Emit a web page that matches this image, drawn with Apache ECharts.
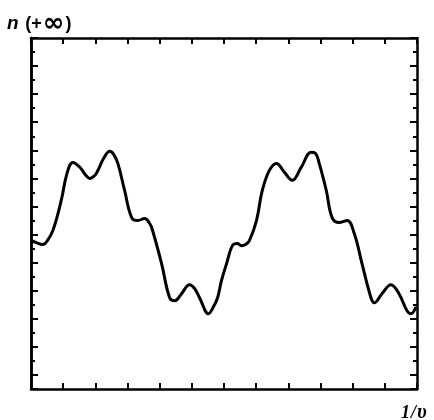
<!DOCTYPE html>
<html>
<head>
<meta charset="utf-8">
<script src="https://cdn.jsdelivr.net/npm/echarts@6/dist/echarts.min.js"></script>
<style>
html,body{margin:0;padding:0;background:#fff;}
#chart{width:434px;height:420px;}
</style>
</head>
<body>
<div id="chart"></div>
<script>
// 1/nu positions (axis units) and n values (axis units)
var xValues = [0.02,0.16,0.37,0.53,0.68,0.84,0.96,1.12,1.30,1.52,1.71,1.83,1.98,2.08,2.26,2.45,2.57,2.70,2.91,3.13,3.32,3.53,3.69,3.78,4.06,4.31,4.47,4.68,4.93,5.09,5.24,5.52,5.64,5.80,5.92,6.08,6.26,6.42,6.54,6.67,6.79,7.01,7.19,7.41,7.63,7.88,8.12,8.40,8.71,8.84,8.96,9.18,9.36,9.58,9.83,10.05,10.29,10.57,10.67,10.91,11.19,11.44,11.69,11.81,11.97];
var nValues = [10.57,10.43,10.29,10.64,11.29,12.5,13.64,15.36,16.14,15.79,15.21,15.0,15.21,15.57,16.43,16.93,16.71,16.07,14.14,12.21,12.0,12.14,11.79,11.29,8.93,6.5,6.29,6.79,7.43,7.14,6.5,5.36,5.71,6.5,7.71,8.93,10.21,10.36,10.21,10.29,10.57,12.0,14.14,15.57,16.07,15.43,14.86,15.79,16.86,16.79,16.07,14.14,12.21,11.86,12.0,11.07,8.93,6.5,6.14,6.79,7.43,6.79,5.57,5.36,5.86];
var yAxisTitle = ['n', '(+', '∞', ')'];
var xAxisTitle = ['1', '/', 'υ'];

var data = xValues.map(function(x, i){ return [x, nValues[i]]; });

var chart = echarts.init(document.getElementById('chart'), null, {renderer:'canvas'});
var lineStyle = {color:'#000', width:2.5};
function xAx(pos){
  return {type:'value', position:pos, min:0, max:12, interval:1,
    axisLine:{show:true, onZero:false, lineStyle:lineStyle},
    axisTick:{show:true, inside:true, length:6, lineStyle:{color:'#000', width:2}},
    axisLabel:{show:false}, splitLine:{show:false}};
}
function yTicks(pos){
  return {type:'value', position:pos, inverse:true, min:0, max:25, interval:2,
    axisLine:{show:true, onZero:false, lineStyle:lineStyle},
    axisTick:{show:true, inside:true, length:7, lineStyle:{color:'#000', width:2}},
    minorTick:{show:true, splitNumber:2, length:4, lineStyle:{color:'#000', width:2}},
    axisLabel:{show:false}, splitLine:{show:false}, minorSplitLine:{show:false}};
}
chart.setOption({
  animation:false,
  backgroundColor:'#fff',
  grid:{left:31, top:38, width:386, height:351, containLabel:false},
  xAxis:[xAx('bottom'), xAx('top')],
  yAxis:[
    {type:'value', position:'left', min:0, max:25, show:true,
      axisLine:{show:true, onZero:false, lineStyle:lineStyle},
      axisTick:{show:false}, axisLabel:{show:false}, splitLine:{show:false}},
    yTicks('left'), yTicks('right')
  ],
  graphic:[
    {type:'text', left:7, top:11, style:{
      text:'{n|' + yAxisTitle[0] + '}  {p|' + yAxisTitle[1] + '}{i|' + yAxisTitle[2] + '}{p|' + yAxisTitle[3] + '}',
      rich:{
        n:{font:'italic bold 19px "Liberation Sans"', fill:'#000'},
        p:{font:'bold 18px "Liberation Sans"', fill:'#000'},
        i:{font:'bold 26px "DejaVu Sans"', fill:'#000', padding:[0,1,0,1]}
      }}},
    {type:'text', left:401, top:403, style:{
      text:'{a|' + xAxisTitle[0] + '}{b|' + xAxisTitle[1] + '}{c|' + xAxisTitle[2] + '}',
      rich:{
        a:{font:'italic bold 18px "Liberation Serif"', fill:'#000', padding:[0,1,0,0]},
        b:{font:'italic bold 18px "Liberation Serif"', fill:'#000', padding:[0,1,0,0]},
        c:{font:'italic bold 20px "Liberation Serif"', fill:'#000'}
      }}}
  ],
  series:[{
    type:'line', xAxisIndex:0, yAxisIndex:0, data:data,
    smooth:0.4, showSymbol:false, symbol:'none',
    lineStyle:{color:'#000', width:3}
  }]
});
</script>
</body>
</html>
